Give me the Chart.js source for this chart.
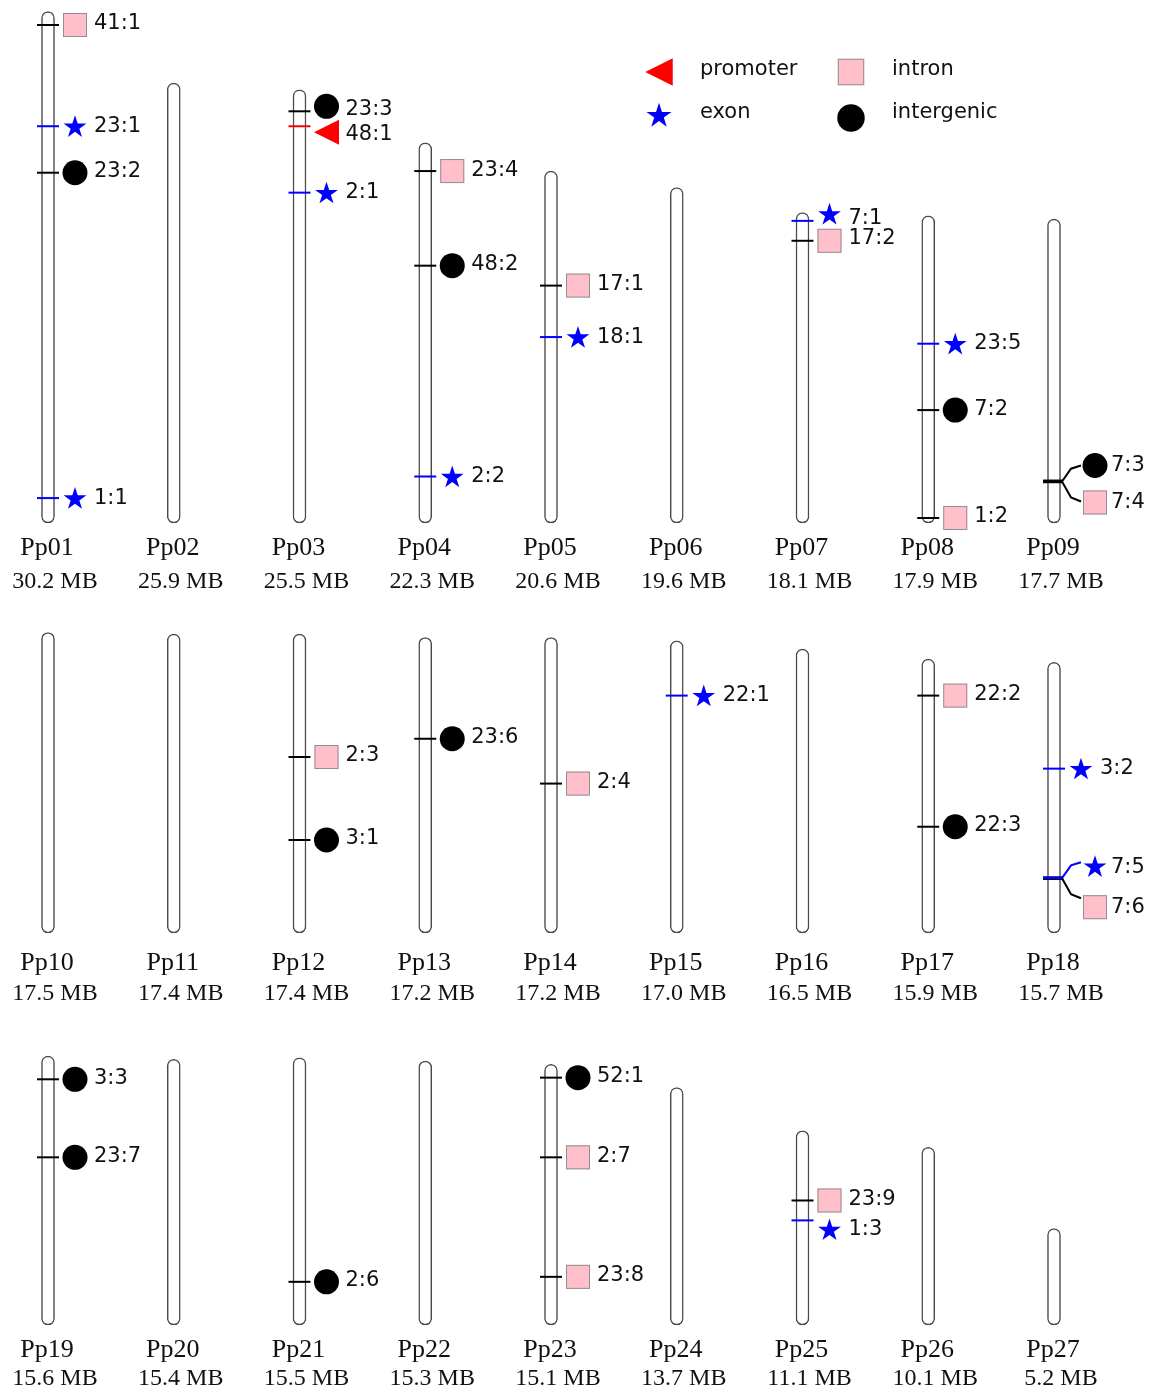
<!DOCTYPE html>
<html>
<head>
<meta charset="utf-8">
<script src="https://cdn.jsdelivr.net/npm/chart.js@4.4.1/dist/chart.umd.min.js"></script>
<style>
  html, body { margin: 0; padding: 0; background: #ffffff; }
  #wrap { position: relative; width: 1150px; height: 1389px; overflow: hidden; background: #fff; }
  #wrap canvas { position: absolute; left: 0; }
</style>
</head>
<body>
<div id="wrap">
  <canvas id="row1" width="1150" height="610" style="top:0px"></canvas>
  <canvas id="row2" width="1150" height="400" style="top:610px"></canvas>
  <canvas id="row3" width="1150" height="379" style="top:1010px"></canvas>
</div>
<script>
// ---------------- DATA ----------------
const CHROMOSOMES = ['Pp01','Pp02','Pp03','Pp04','Pp05','Pp06','Pp07','Pp08','Pp09',
                     'Pp10','Pp11','Pp12','Pp13','Pp14','Pp15','Pp16','Pp17','Pp18',
                     'Pp19','Pp20','Pp21','Pp22','Pp23','Pp24','Pp25','Pp26','Pp27'];
const SIZES_MB = [30.2, 25.9, 25.5, 22.3, 20.6, 19.6, 18.1, 17.9, 17.7,
                  17.5, 17.4, 17.4, 17.2, 17.2, 17.0, 16.5, 15.9, 15.7,
                  15.6, 15.4, 15.5, 15.3, 15.1, 13.7, 11.1, 10.1, 5.2];

// markers: position in MB measured from the top end of the chromosome
const MARKER_CHROM = ['Pp01','Pp01','Pp01','Pp01','Pp03','Pp03','Pp03','Pp04','Pp04','Pp04',
                      'Pp05','Pp05','Pp07','Pp07','Pp08','Pp08','Pp08','Pp09','Pp09',
                      'Pp12','Pp12','Pp13','Pp14','Pp15','Pp17','Pp17','Pp18','Pp18','Pp18',
                      'Pp19','Pp19','Pp21','Pp23','Pp23','Pp23','Pp25','Pp25'];
const MARKER_POS_MB = [0.5, 6.6, 9.4, 29.0, 1.0, 1.9, 5.9, 1.4, 7.1, 19.8,
                       6.6, 9.7, 0.2, 1.4, 7.4, 11.4, 17.9, 15.5, 15.5,
                       7.1, 12.1, 5.8, 8.5, 3.0, 1.9, 9.8, 6.1, 12.7, 12.7,
                       1.1, 5.8, 13.2, 0.5, 5.3, 12.5, 3.9, 5.1];
const MARKER_TYPE = ['intron','exon','intergenic','exon','intergenic','promoter','exon','intron','intergenic','exon',
                     'intron','exon','exon','intron','exon','intergenic','intron','intergenic','intron',
                     'intron','intergenic','intergenic','intron','exon','intron','intergenic','exon','exon','intron',
                     'intergenic','intergenic','intergenic','intergenic','intron','intron','intron','exon'];
const MARKER_LABEL = ['41:1','23:1','23:2','1:1','23:3','48:1','2:1','23:4','48:2','2:2',
                      '17:1','18:1','7:1','17:2','23:5','7:2','1:2','7:3','7:4',
                      '2:3','3:1','23:6','2:4','22:1','22:2','22:3','3:2','7:5','7:6',
                      '3:3','23:7','2:6','52:1','2:7','23:8','23:9','1:3'];
const LEGEND_TYPES = ['promoter','intron','exon','intergenic'];

// ---------------- LAYOUT / STYLE ----------------
const PX_PER_MB = 16.6;
const CAP_MB = 0.3;
const COL_X0 = 48, COL_DX = 125.75, CANVAS_W = 1150, PER_ROW = 9;
const ROWS = [
  {id:'row1', top:0,    height:610, base:518,  nameY:555,  sizeY:588},
  {id:'row2', top:610,  height:400, base:928,  nameY:970,  sizeY:1000},
  {id:'row3', top:1010, height:379, base:1320, nameY:1357, sizeY:1385}
];
const TICK_COLOR = {promoter:'#ff0000', exon:'#0000ff', intron:'#000000', intergenic:'#000000'};
const SYMBOL_DY = {'23:3':-5, '48:1':6, '7:1':-6, '1:3':10, '1:1':1, '23:1':1, '2:1':1, '2:2':1, '18:1':1, '23:5':1, '22:1':1, '3:2':1};
const LABEL_DY = {'23:3':3, '48:1':2, '7:1':4, '17:2':-2, '1:3':-1};
const SYMBOL_DX = 27, LABEL_DX = 46, BRANCH_SYMBOL_DX = 41, BRANCH_LABEL_DX = 57;
const MARK_FONT = '21px "DejaVu Sans"';
const NAME_FONT = '26px "Liberation Serif"';
const SIZE_FONT = '24px "Liberation Serif"';

function drawStar(ctx, x, y, R) {
  const r = R * 0.381966;
  ctx.beginPath();
  for (let k = 0; k < 10; k++) {
    const ang = -Math.PI / 2 + k * Math.PI / 5;
    const rr = (k % 2 === 0) ? R : r;
    const px = x + rr * Math.cos(ang), py = y + rr * Math.sin(ang);
    if (k === 0) ctx.moveTo(px, py); else ctx.lineTo(px, py);
  }
  ctx.closePath();
  ctx.fill();
}

function drawSymbol(ctx, type, x, y, s) {
  ctx.save();
  if (type === 'intron') {
    const h = 12 * s;
    ctx.fillStyle = '#ffc0cb';
    ctx.fillRect(x - h, y - h, 2 * h, 2 * h);
    ctx.strokeStyle = '#8f8f8f';
    ctx.lineWidth = 1;
    ctx.strokeRect(x - h + 0.5, y - h + 0.5, 2 * h - 1, 2 * h - 1);
  } else if (type === 'intergenic') {
    ctx.fillStyle = '#000000';
    ctx.beginPath();
    ctx.arc(x, y, 12.5 * s, 0, Math.PI * 2);
    ctx.fill();
  } else if (type === 'exon') {
    ctx.fillStyle = '#0000ff';
    drawStar(ctx, x, y, 12 * s);
  } else if (type === 'promoter') {
    const h = 12.5 * s;
    ctx.fillStyle = '#ff0000';
    ctx.beginPath();
    ctx.moveTo(x - h, y);
    ctx.lineTo(x + h, y - h);
    ctx.lineTo(x + h, y + h);
    ctx.closePath();
    ctx.fill();
  }
  ctx.restore();
}

// group markers sharing a chromosome and position (drawn as a branch)
const groupKey = i => MARKER_CHROM[i] + '|' + MARKER_POS_MB[i];
const groups = {};
MARKER_LABEL.forEach((_, i) => { (groups[groupKey(i)] = groups[groupKey(i)] || []).push(i); });

function buildRow(rowIdx) {
  const row = ROWS[rowIdx];
  const first = rowIdx * PER_ROW;
  const names = CHROMOSOMES.slice(first, first + PER_ROW);
  const sizes = SIZES_MB.slice(first, first + PER_ROW);
  const baseLocal = row.base - row.top;

  const barData = sizes.map((L, i) => ({x: i, y: [-CAP_MB, L + CAP_MB]}));

  const typeDatasets = LEGEND_TYPES.map(t => {
    const idx = [];
    MARKER_LABEL.forEach((_, m) => {
      if (MARKER_TYPE[m] === t && names.includes(MARKER_CHROM[m])) idx.push(m);
    });
    return {
      type: 'scatter',
      label: t,
      markerIndex: idx,
      data: idx.map(m => {
        const c = names.indexOf(MARKER_CHROM[m]);
        return {x: c, y: sizes[c] - MARKER_POS_MB[m]};
      }),
      pointRadius: 0,
      pointHoverRadius: 0
    };
  });

  const overlay = {
    id: 'overlay' + rowIdx,
    afterDatasetsDraw(chart) {
      const ctx = chart.ctx;
      const xs = chart.scales.x;
      const pos = {};
      chart.data.datasets.forEach((ds, di) => {
        if (!ds.markerIndex) return;
        const meta = chart.getDatasetMeta(di);
        ds.markerIndex.forEach((m, k) => { pos[m] = {x: meta.data[k].x, y: meta.data[k].y}; });
      });
      const done = new Set();
      Object.keys(pos).map(Number).sort((a, b) => a - b).forEach(m => {
        if (done.has(m)) return;
        const g = groups[groupKey(m)];
        const p = pos[m];
        ctx.save();
        ctx.lineCap = 'butt';
        if (g.length > 1) {
          [...g].reverse().forEach((mm, k) => {
            ctx.strokeStyle = TICK_COLOR[MARKER_TYPE[mm]];
            ctx.lineWidth = k === 0 ? 3.5 : 2.5;
            ctx.beginPath();
            ctx.moveTo(p.x - 11, p.y + (k === 0 ? 0 : -0.5));
            ctx.lineTo(p.x + 9, p.y + (k === 0 ? 0 : -0.5));
            ctx.stroke();
          });
          g.forEach((mm, k) => {
            const up = k === 0;
            const t = MARKER_TYPE[mm];
            const dySym = up ? (t === 'exon' ? -11 : -16) : (t === 'intron' && MARKER_CHROM[mm] === 'Pp18' ? 29 : 21);
            const endDy = up ? -16 : 20;
            ctx.strokeStyle = TICK_COLOR[t];
            ctx.lineWidth = 2;
            ctx.beginPath();
            ctx.moveTo(p.x + 8, p.y);
            ctx.lineTo(p.x + 17, p.y + endDy * 0.8);
            ctx.lineTo(p.x + 27, p.y + endDy);
            ctx.stroke();
            drawSymbol(ctx, t, p.x + BRANCH_SYMBOL_DX, p.y + dySym, 1);
            ctx.fillStyle = '#111';
            ctx.font = MARK_FONT;
            ctx.textAlign = 'left';
            ctx.textBaseline = 'middle';
            ctx.fillText(MARKER_LABEL[mm], p.x + BRANCH_LABEL_DX, p.y + dySym);
            done.add(mm);
          });
        } else {
          const t = MARKER_TYPE[m];
          ctx.strokeStyle = TICK_COLOR[t];
          ctx.lineWidth = 2;
          ctx.beginPath();
          ctx.moveTo(p.x - 11, p.y);
          ctx.lineTo(p.x + 11, p.y);
          ctx.stroke();
          const lab = MARKER_LABEL[m];
          const sy = p.y + (SYMBOL_DY[lab] || 0);
          drawSymbol(ctx, t, p.x + SYMBOL_DX, sy, 1);
          ctx.fillStyle = '#111';
          ctx.font = MARK_FONT;
          ctx.textAlign = 'left';
          ctx.textBaseline = 'middle';
          ctx.fillText(lab, p.x + LABEL_DX, sy + (LABEL_DY[lab] !== undefined ? LABEL_DY[lab] : -1));
          done.add(m);
        }
        ctx.restore();
      });
      // chromosome names and sizes
      ctx.save();
      ctx.fillStyle = '#111';
      ctx.textAlign = 'center';
      ctx.textBaseline = 'alphabetic';
      names.forEach((n, i) => {
        const cx = xs.getPixelForValue(i);
        ctx.font = NAME_FONT;
        ctx.fillText(n, cx - 1, row.nameY - row.top);
        ctx.font = SIZE_FONT;
        ctx.fillText(sizes[i].toFixed(1) + ' MB', cx + 7, row.sizeY - row.top);
      });
      ctx.restore();
      if (rowIdx === 0) {
        const L = [
          {t:'promoter',   sx:659, sy:72,  tx:700, ty:70},
          {t:'intron',     sx:851, sy:72,  tx:892, ty:70},
          {t:'exon',       sx:659, sy:116, tx:700, ty:113},
          {t:'intergenic', sx:851, sy:118, tx:892, ty:113}
        ];
        ctx.save();
        L.forEach(e => {
          drawSymbol(ctx, e.t, e.sx, e.sy, 1.1);
          ctx.fillStyle = '#111';
          ctx.font = MARK_FONT;
          ctx.textAlign = 'left';
          ctx.textBaseline = 'middle';
          ctx.fillText(e.t, e.tx, e.ty);
        });
        ctx.restore();
      }
    }
  };

  return new Chart(document.getElementById(row.id), {
    type: 'bar',
    data: {
      datasets: [{
        label: 'chromosomes',
        data: barData,
        backgroundColor: '#ffffff',
        borderColor: '#4a4a4a',
        borderWidth: 1.5,
        borderRadius: 7,
        borderSkipped: false,
        barThickness: 13
      }, ...typeDatasets]
    },
    options: {
      responsive: false,
      animation: false,
      events: [],
      layout: {padding: 0},
      plugins: {legend: {display: false}, tooltip: {enabled: false}},
      scales: {
        x: {type: 'linear', display: false, offset: false, grace: 0,
            min: -COL_X0 / COL_DX, max: (CANVAS_W - COL_X0) / COL_DX},
        y: {type: 'linear', display: false, grace: 0,
            min: -(row.height - baseLocal) / PX_PER_MB, max: baseLocal / PX_PER_MB}
      }
    },
    plugins: [overlay]
  });
}

ROWS.forEach((_, i) => buildRow(i));
</script>
</body>
</html>
